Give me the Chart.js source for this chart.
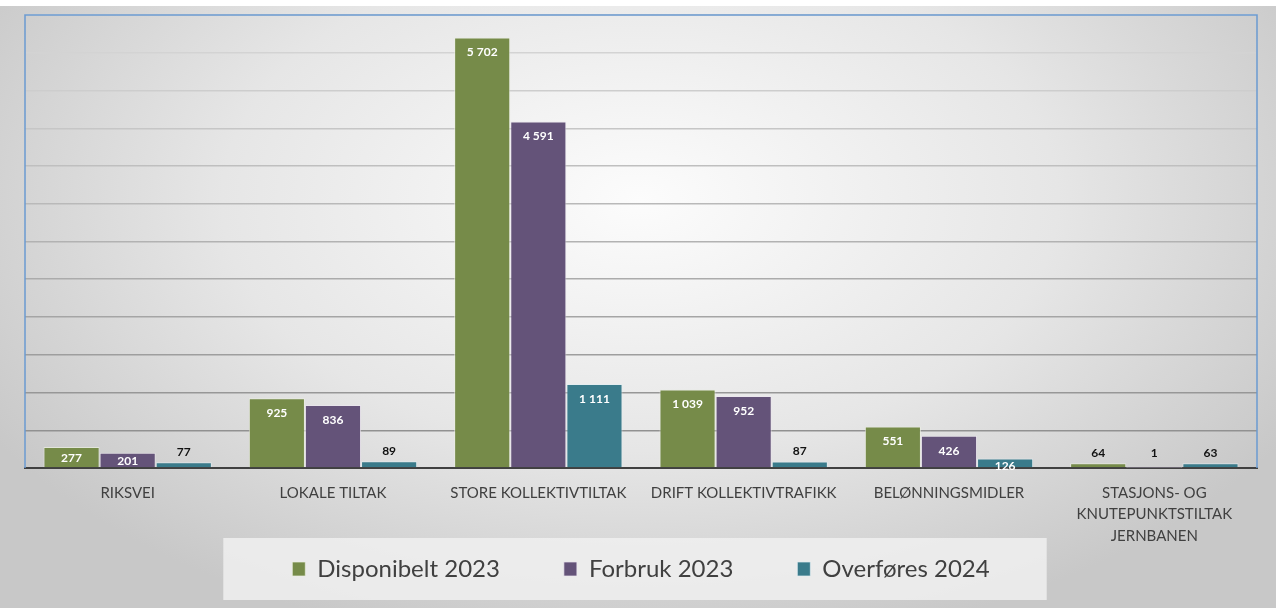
<!DOCTYPE html>
<html lang="no">
<head>
  <meta charset="UTF-8" />
  <title>Disponibelt og forbruk 2023</title>
  <script src="https://cdn.jsdelivr.net/npm/chart.js"></script>
  <style>
    html, body { margin: 0; padding: 0; background: #fff; }
    .wrap { width: 1276px; height: 608px; position: relative; }
  </style>
</head>
<body>
  <div class="wrap">
    <canvas id="myChart"></canvas>
  </div>

  <script>
    // kategorier og verdier (mill. kr)
    const categories = [
      'RIKSVEI',
      'LOKALE TILTAK',
      'STORE KOLLEKTIVTILTAK',
      'DRIFT KOLLEKTIVTRAFIKK',
      'BELØNNINGSMIDLER',
      ['STASJONS- OG', 'KNUTEPUNKTSTILTAK', 'JERNBANEN']
    ];
    const disponibelt = [277, 925, 5702, 1039, 551, 64];
    const forbruk = [201, 836, 4591, 952, 426, 1];
    const overfores = [77, 89, 1111, 87, 126, 63];
    const yMax = 6000;
    const yStep = 500;

    const FONT = 'Lato, "Open Sans", sans-serif';

    // tall med mellomrom som tusenskille
    function fmt(v) {
      return String(v).replace(/\B(?=(\d{3})+(?!\d))/g, ' ');
    }

    // bakgrunn, ramme og legendeboks
    const backdrop = {
      id: 'backdrop',
      beforeDraw(chart) {
        const c = chart.ctx;
        const w = chart.width, h = chart.height;
        c.save();
        c.fillStyle = '#fff';
        c.fillRect(0, 0, w, h);
        c.translate(640, 200);
        c.scale(1, 0.6);
        const g = c.createRadialGradient(0, 0, 0, 0, 0, 760);
        g.addColorStop(0, '#fcfcfc');
        g.addColorStop(0.55, '#e6e6e6');
        g.addColorStop(1, '#c8c8c8');
        c.fillStyle = g;
        c.fillRect(-700, (6 - 200) / 0.6, 1400, 700 / 0.6);
        c.restore();

        // legendeboks
        const lg = chart.legend;
        if (lg && lg.legendHitBoxes && lg.legendHitBoxes.length) {
          const hb = lg.legendHitBoxes;
          const x0 = hb[0].left - 69;
          const x1 = hb[hb.length - 1].left + hb[hb.length - 1].width + 57;
          c.save();
          c.fillStyle = 'rgba(240,240,240,0.85)';
          c.fillRect(x0, 538, x1 - x0, 62);
          c.restore();
        }
      },
      beforeDatasetsDraw(chart) {
        const a = chart.chartArea;
        const c = chart.ctx;
        c.save();
        c.strokeStyle = '#6b9bd1';
        c.lineWidth = 1.5;
        c.beginPath();
        c.moveTo(a.left, a.bottom);
        c.lineTo(a.left, a.top);
        c.lineTo(a.right, a.top);
        c.lineTo(a.right, a.bottom);
        c.stroke();
        c.restore();
      }
    };

    // verdietiketter
    const valueLabels = {
      id: 'valueLabels',
      afterDatasetsDraw(chart) {
        const c = chart.ctx;
        c.save();
        c.font = 'bold 12px ' + FONT;
        c.textAlign = 'center';
        c.textBaseline = 'middle';
        chart.data.datasets.forEach((ds, di) => {
          const meta = chart.getDatasetMeta(di);
          meta.data.forEach((bar, i) => {
            const h = bar.base - bar.y;
            let y;
            if (h > 8) {
              c.fillStyle = '#ffffff';
              y = bar.y + Math.min(15, Math.max(8, h / 2 + 1));
            } else {
              c.fillStyle = '#111111';
              y = Math.min(bar.y - 10, bar.base - 14);
            }
            c.fillText(fmt(ds.data[i]), bar.x, y);
          });
        });
        c.restore();
      }
    };

    function gridColor(ctx) {
      const v = ctx.tick ? ctx.tick.value : 0;
      const t = Math.min(1, v / yMax);
      const g = Math.round(138 + t * 80);
      return `rgb(${g},${g},${g})`;
    }

    const ctx = document.getElementById('myChart').getContext('2d');
    const chart = new Chart(ctx, {
      type: 'bar',
      data: {
        labels: categories,
        datasets: [
          {
            label: 'Disponibelt 2023',
            data: disponibelt,
            backgroundColor: '#768b49',
            borderColor: 'rgba(235,240,225,0.7)',
            borderWidth: 1
          },
          {
            label: 'Forbruk 2023',
            data: forbruk,
            backgroundColor: '#645379',
            borderColor: 'rgba(235,230,240,0.7)',
            borderWidth: 1
          },
          {
            label: 'Overføres 2024',
            data: overfores,
            backgroundColor: '#3a7b8b',
            borderColor: 'rgba(225,238,242,0.7)',
            borderWidth: 1
          }
        ]
      },
      options: {
        responsive: true,
        maintainAspectRatio: false,
        animation: false,
        layout: { padding: { left: 25, right: 19, top: 15, bottom: 17 } },
        datasets: {
          bar: { categoryPercentage: 0.82, barPercentage: 1.0 }
        },
        plugins: {
          tooltip: { enabled: false },
          legend: {
            position: 'bottom',
            labels: {
              font: { family: FONT, size: 24 },
              color: '#404040',
              boxWidth: 13,
              boxHeight: 14,
              padding: 64
            }
          }
        },
        scales: {
          x: {
            grid: { display: false, drawTicks: false },
            border: { color: '#404040', width: 2 },
            ticks: {
              color: '#404040',
              font: { family: FONT, size: 15, lineHeight: 1.45 },
              padding: 14,
              maxRotation: 0,
              autoSkip: false
            },
            afterFit(s) {
              s.height = 25;
              // la etikettene gå under legenden uten å klippes
              s._computeLabelArea = () => undefined;
            }
          },
          y: {
            min: 0,
            max: yMax,
            ticks: { display: false, stepSize: yStep },
            grid: { color: gridColor, lineWidth: 1.5, drawTicks: false },
            border: { display: false },
            afterFit(s) { s.width = 0; }
          }
        }
      },
      plugins: [backdrop, valueLabels]
    });
  </script>
</body>
</html>
